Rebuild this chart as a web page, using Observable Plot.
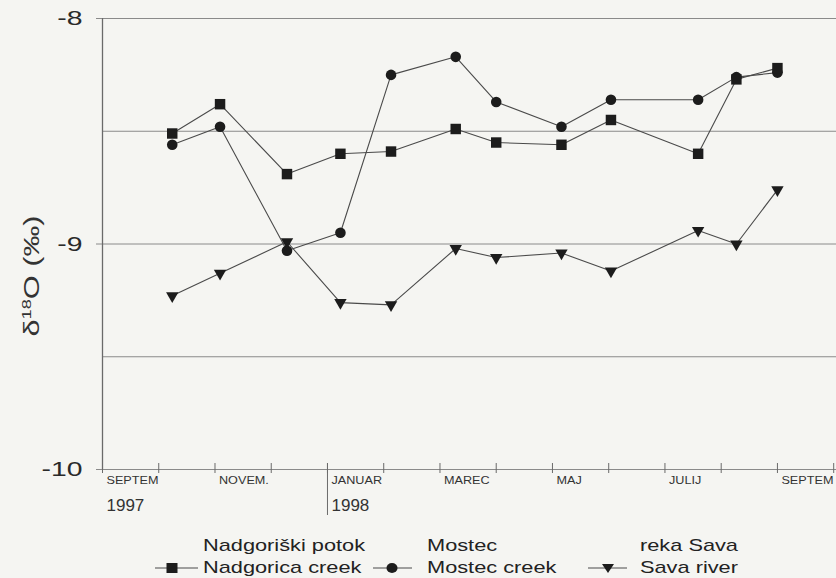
<!DOCTYPE html>
<html>
<head>
<meta charset="utf-8">
<script src="https://cdn.jsdelivr.net/npm/d3@7"></script>
<script src="https://cdn.jsdelivr.net/npm/@observablehq/plot@0.6"></script>
<style>
  html, body { margin: 0; padding: 0; background: #f5f5f2; overflow: hidden; }
  #wrap { width: 836px; height: 578px; position: relative; font-family: "Liberation Sans", Arial, sans-serif; }
  #legend { position: relative; width: 836px; height: 50px; color: #222; font-size: 17px; }
  .litem { position: absolute; top: 7px; line-height: 22px; white-space: nowrap; transform: scaleX(1.28); transform-origin: left top; }
  .lmark { position: absolute; top: 34px; }
</style>
</head>
<body>
<div id="wrap"><div id="chart"></div><div id="legend"></div></div>
<script>
// ---- data (month offsets from 1 Sept 1997) ----
const sampleMonths = [1.24, 2.09, 3.28, 4.23, 5.13, 6.28, 7.00, 8.16, 9.04, 10.59, 11.27, 12.00];
const nadgorica = [-8.51, -8.38, -8.69, -8.60, -8.59, -8.49, -8.55, -8.56, -8.45, -8.60, -8.27, -8.22];
const mostec    = [-8.56, -8.48, -9.03, -8.95, -8.25, -8.17, -8.37, -8.48, -8.36, -8.36, -8.26, -8.24];
const sava      = [-9.23, -9.13, -8.99, -9.26, -9.27, -9.02, -9.06, -9.04, -9.12, -8.94, -9.00, -8.76];

const seriesNames = ["Nadgorica creek", "Mostec creek", "Sava river"];
const legendLine1 = ["Nadgoriški potok", "Mostec", "reka Sava"];
const legendLine2 = ["Nadgorica creek", "Mostec creek", "Sava river"];

const monthTicks = [0, 1, 2, 3, 4, 5, 6, 7, 8, 9, 10, 11, 12, 13];
const monthLabels = ["SEPTEM", "NOVEM.", "JANUAR", "MAREC", "MAJ", "JULIJ", "SEPTEM"];
const monthLabelPos = [0, 2, 4, 6, 8, 10, 12];
const yearLabels = ["1997", "1998"];
const yearPos = [0, 4];
const yTicks = [-8, -9, -10];
const gridLines = [-8, -8.5, -9, -9.5, -10];
const yLabel = "δ18O (‰)";

// ---- build table ----
const rows = [];
[nadgorica, mostec, sava].forEach((vals, s) => {
  vals.forEach((v, i) => rows.push({series: seriesNames[s], month: sampleMonths[i], value: v}));
});

const triDown = {
  draw(ctx, size) {
    const y = Math.sqrt(size / (Math.sqrt(3) * 3));
    ctx.moveTo(0, 2 * y);
    ctx.lineTo(-Math.sqrt(3) * y, -y);
    ctx.lineTo(Math.sqrt(3) * y, -y);
    ctx.closePath();
  }
};

const markFill = "#1c1c1c";
const lineColor = "#4a4a4a";
const gridColor = "#8a8a8a";

const chart = Plot.plot({
  width: 836,
  height: 528,
  marginLeft: 102,
  marginRight: 0,
  marginTop: 18,
  marginBottom: 59,
  style: {background: "transparent", fontFamily: "'Liberation Sans', Arial, sans-serif", color: "#2a2a2a"},
  x: {domain: [0, 13.05], axis: null},
  y: {domain: [-10, -8], axis: null},
  marks: [
    Plot.ruleY(gridLines, {stroke: gridColor, strokeWidth: 1}),
    Plot.ruleX([0], {stroke: "#6a6a6a", strokeWidth: 1.3}),
    Plot.ruleX(monthTicks, {stroke: "#6a6a6a", strokeWidth: 1, insetTop: 445, insetBottom: -4}),
    Plot.ruleX(yearPos.filter(p => p > 0), {stroke: "#6a6a6a", strokeWidth: 1, insetTop: 445, insetBottom: -46}),
    Plot.axisY(yTicks, {tickSize: 6, tickPadding: 14, fontSize: 21, stroke: gridColor, fill: "#2a2a2a", tickFormat: d => String(d), label: null}),
    Plot.text(monthLabels, {x: (d, i) => monthLabelPos[i], text: d => d, frameAnchor: "bottom", textAnchor: "start", lineAnchor: "middle", dx: 4, dy: 11, fontSize: 11, fill: "#333"}),
    Plot.text(yearLabels, {x: (d, i) => yearPos[i], text: d => d, frameAnchor: "bottom", textAnchor: "start", lineAnchor: "middle", dx: 4, dy: 36, fontSize: 17, fill: "#333"}),
    Plot.text([yLabel], {text: d => d, frameAnchor: "left", rotate: -90, textAnchor: "middle", lineAnchor: "middle", dx: -71, dy: 32, fontSize: 22, fill: "#333"}),
    Plot.line(rows, {x: "month", y: "value", z: "series", stroke: lineColor, strokeWidth: 1.1}),
    Plot.dot(rows.filter(d => d.series === seriesNames[1]), {x: "month", y: "value", symbol: "circle", r: 5.3, fill: markFill, stroke: "none"}),
    Plot.dot(rows.filter(d => d.series === seriesNames[2]), {x: "month", y: "value", symbol: triDown, r: 4.6, fill: markFill, stroke: "none"}),
    Plot.dot(rows.filter(d => d.series === seriesNames[0]), {x: "month", y: "value", symbol: "square", r: 5.9, fill: markFill, stroke: "none"})
  ]
});
document.getElementById("chart").appendChild(chart);

// horizontal stretch of glyphs to match the scanned original
const stretch = {21: 1.35, 11: 1.15, 22: 1.4};
chart.querySelectorAll("g[font-size]").forEach(g => {
  const fs = parseFloat(g.getAttribute("font-size"));
  const s = stretch[fs];
  if (!s) return;
  g.querySelectorAll("text").forEach(t => {
    if (fs === 22) {
      const sel = d3.select(t);
      sel.text("");
      sel.append("tspan").text("δ");
      sel.append("tspan").attr("dy", -8).attr("font-size", 13).text("18");
      sel.append("tspan").attr("dy", 8).text("O (‰)");
    }
    const tr = t.getAttribute("transform") || "";
    t.setAttribute("transform", tr + ` scale(${s},1)`);
  });
});

// ---- legend ----
const legend = document.getElementById("legend");
const legendTextX = [203, 427, 640];
const legendLine = [[155, 198, 172], [373, 412, 392], [588, 627, 608]];
const legendSymbols = ["square", "circle", "triangle"];
legendLine1.forEach((l1, i) => {
  const div = document.createElement("div");
  div.className = "litem";
  div.style.left = legendTextX[i] + "px";
  div.innerHTML = l1 + "<br>" + legendLine2[i];
  legend.appendChild(div);
  const [x0, x1, xc] = legendLine[i];
  const w = x1 - x0;
  const svg = d3.create("svg").attr("class", "lmark").attr("width", w).attr("height", 12)
    .style("left", x0 + "px");
  svg.append("line").attr("x1", 0).attr("x2", w).attr("y1", 6).attr("y2", 6).attr("stroke", lineColor).attr("stroke-width", 1.2);
  const c = xc - x0;
  if (legendSymbols[i] === "square") svg.append("rect").attr("x", c - 5.5).attr("y", 1).attr("width", 11).attr("height", 10).attr("fill", markFill);
  else if (legendSymbols[i] === "circle") svg.append("ellipse").attr("cx", c).attr("cy", 6).attr("rx", 5.5).attr("ry", 5).attr("fill", markFill);
  else svg.append("path").attr("d", `M${c - 6},2L${c + 6},2L${c},11Z`).attr("fill", markFill);
  legend.appendChild(svg.node());
});
</script>
</body>
</html>
